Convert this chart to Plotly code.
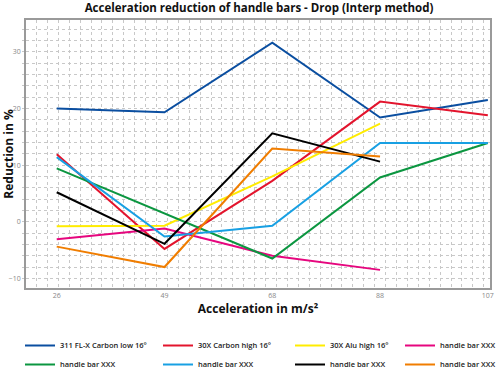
import plotly.graph_objects as go

categories = ["26", "49", "68", "88", "107"]

names = [
    "311 FL-X Carbon low 16°",
    "30X Carbon high 16°",
    "30X Alu high 16°",
    "handle bar XXX",
    "handle bar XXX",
    "handle bar XXX",
    "handle bar XXX",
    "handle bar XXX",
]

blue_311 = [20.0, 19.3, 31.6, 18.4, 21.5]
red_30x_carbon = [11.9, -4.8, 7.2, 21.2, 18.8]
yellow_30x_alu = [-0.8, -0.7, 8.0, 17.3, None]
magenta_hb = [-3.1, -1.2, -6.0, -8.5, None]
green_hb = [9.4, 1.5, -6.5, 7.8, 13.9]
cyan_hb = [11.4, -2.6, -0.7, 13.9, 13.9]
black_hb = [5.2, -3.9, 15.6, 10.6, None]
orange_hb = [-4.4, -8.0, 12.9, 11.5, None]

series = [blue_311, red_30x_carbon, yellow_30x_alu, magenta_hb,
          green_hb, cyan_hb, black_hb, orange_hb]
colors = ["#0a4ea0", "#e3142d", "#ffec00", "#e6067e",
          "#0b9640", "#18a0e3", "#000000", "#f07d00"]

y_ticks = [-10, 0, 10, 20, 30]

xpos = list(range(len(categories)))

# plot-area geometry (pixels)
W, H = 500, 370
ml, mr, mt, mb = 26, 10, 20, 82
pw, ph = W - ml - mr, H - mt - mb

def px_x(p):
    return (p - ml) / pw

def px_y(p):
    return (H - mb - p) / ph

legend_cols_px = [20, 158, 290, 400]
legend_top_px = 331

fig = go.Figure()
for i, (nm, vals, c) in enumerate(zip(names, series, colors)):
    col = i % 4
    fig.add_trace(go.Scatter(
        x=xpos, y=vals, name=nm, mode="lines",
        line=dict(color=c, width=2),
        legend="legend" if col == 0 else f"legend{col+1}",
        connectgaps=False,
    ))

legend_font = dict(family="Open Sans", size=7.5, color="#222", weight=600)
layout_legends = {}
for col in range(4):
    key = "legend" if col == 0 else f"legend{col+1}"
    layout_legends[key] = dict(
        x=px_x(legend_cols_px[col]), xanchor="left",
        y=px_y(legend_top_px), yanchor="top",
        orientation="v", font=legend_font,
        bgcolor="rgba(0,0,0,0)", borderwidth=0,
        tracegroupgap=0,
    )

grid_col = "#c8c8c8"
axis_col = "#9a9a9a"
tick_font = dict(family="Open Sans", size=7, color="#888")

fig.update_layout(
    width=W, height=H,
    margin=dict(l=ml, r=mr, t=mt, b=mb, autoexpand=False),
    paper_bgcolor="white", plot_bgcolor="white",
    title=dict(
        text="Acceleration reduction of handle bars - Drop (Interp method)",
        x=259 / W, xanchor="center", y=1 - 3.5 / H, yanchor="top",
        font=dict(family="Open Sans", size=11.5, color="#111", weight="bold"),
    ),
    xaxis=dict(
        range=[-0.285, 4.02],
        tickmode="array", tickvals=xpos, ticktext=categories,
        tickfont=tick_font, ticks="", showgrid=False, zeroline=False,
        showline=True, linecolor=axis_col, linewidth=1.5, mirror=True,
        minor=dict(tickmode="linear", tick0=0.015, dtick=0.1012,
                   showgrid=True, gridcolor=grid_col, griddash="dot", gridwidth=1),
        title=dict(text="Acceleration in m/s²", standoff=1,
                   font=dict(family="Open Sans", size=12, color="#111", weight="bold")),
    ),
    yaxis=dict(
        range=[-11.7, 35.6],
        tickmode="array", tickvals=y_ticks,
        tickfont=tick_font, ticks="outside", ticklen=2, tickcolor=grid_col,
        showgrid=True, gridcolor=grid_col, griddash="dot", gridwidth=1,
        zeroline=False,
        showline=True, linecolor=axis_col, linewidth=1.5, mirror=True,
        minor=dict(tickmode="linear", tick0=0, dtick=2, ticks="outside", ticklen=2,
                   tickcolor=grid_col,
                   showgrid=True, gridcolor=grid_col, griddash="dot", gridwidth=1),
        title=dict(text="Reduction in %", standoff=0,
                   font=dict(family="Open Sans", size=12, color="#111", weight="bold")),
    ),
    **layout_legends,
)

fig.write_html("out.html", post_script="document.body.style.margin='0';",
               config={"displayModeBar": False})
